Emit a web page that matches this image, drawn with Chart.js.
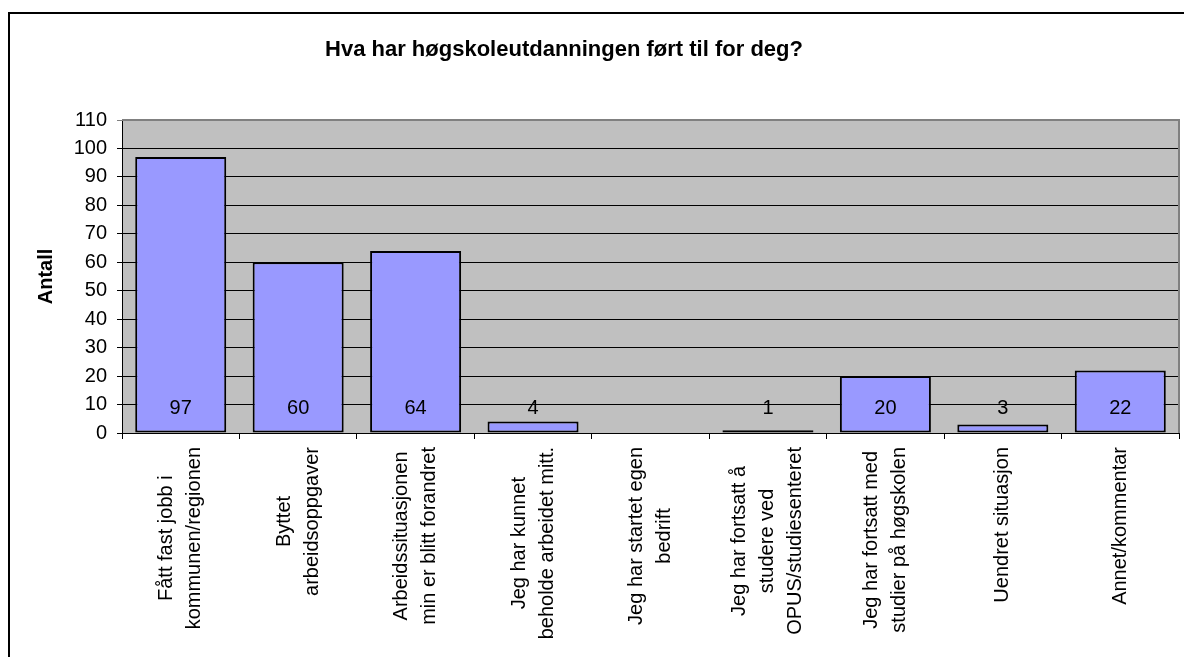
<!DOCTYPE html>
<html>
<head>
<meta charset="utf-8">
<script src="https://cdn.jsdelivr.net/npm/chart.js@4/dist/chart.umd.min.js"></script>
<style>
  html, body { margin: 0; padding: 0; background: #fff; overflow: hidden; }
  #wrap { position: relative; width: 1184px; height: 657px; }
</style>
</head>
<body>
<div id="wrap"><canvas id="chart" width="1184" height="657"></canvas></div>
<script>
// data
const tittel = 'Hva har høgskoleutdanningen ført til for deg?';
const kategorier = [
    ['Fått fast jobb i', 'kommunen/regionen'],
    ['Byttet', 'arbeidsoppgaver'],
    ['Arbeidssituasjonen', 'min er blitt forandret'],
    ['Jeg har kunnet', 'beholde arbeidet mitt.'],
    ['Jeg har startet egen', 'bedrift'],
    ['Jeg har fortsatt å', 'studere ved', 'OPUS/studiesenteret'],
    ['Jeg har fortsatt med', 'studier på høgskolen'],
    ['Uendret situasjon'],
    ['Annet/kommentar']
];
const antall = [97, 60, 64, 4, 0, 1, 20, 3, 22];
const yMin = 0;
const yMax = 110;
const yStep = 10;

const FONT = '"Liberation Sans", Arial, sans-serif';

// ramme, tittel, kantlinjer og kategoritekster
const tegnPlugin = {
    id: 'tegnPlugin',
    beforeDraw(chart) {
        const { ctx, chartArea } = chart;
        ctx.save();
        ctx.fillStyle = '#fff';
        ctx.fillRect(0, 0, chart.width, chart.height);
        ctx.fillStyle = '#c0c0c0';
        ctx.fillRect(chartArea.left, chartArea.top, chartArea.right - chartArea.left, chartArea.bottom - chartArea.top);
        ctx.lineWidth = 2;
        ctx.strokeStyle = '#000';
        ctx.strokeRect(9, 13, 2000, 2000);
        ctx.restore();
    },
    afterDatasetsDraw(chart) {
        const { ctx, chartArea } = chart;
        const meta = chart.getDatasetMeta(0);
        const y0 = chart.scales.y.getPixelForValue(0);
        ctx.save();
        // grå kant øverst og til høyre
        ctx.strokeStyle = '#808080';
        ctx.lineWidth = 2;
        ctx.beginPath();
        ctx.moveTo(chartArea.left, chartArea.top);
        ctx.lineTo(chartArea.right, chartArea.top);
        ctx.lineTo(chartArea.right, chartArea.bottom);
        ctx.stroke();
        // verdier ved foten av søylene
        ctx.fillStyle = '#000';
        ctx.font = '20px ' + FONT;
        ctx.textAlign = 'center';
        ctx.textBaseline = 'middle';
        meta.data.forEach((bar, i) => {
            if (antall[i] === 0) return;
            ctx.fillText(String(antall[i]), bar.x, y0 - 25);
        });
        ctx.restore();
    },
    afterDraw(chart) {
        const { ctx, chartArea } = chart;
        const xs = chart.scales.x;
        ctx.save();
        ctx.fillStyle = '#000';
        ctx.font = 'bold 22px ' + FONT;
        ctx.textAlign = 'center';
        ctx.textBaseline = 'alphabetic';
        ctx.fillText(tittel, 564, 56);

        // kategoritekster, rotert, linjene sentrert i blokken
        ctx.font = '20px ' + FONT;
        ctx.textBaseline = 'middle';
        const linjeH = 28;
        const topp = chartArea.bottom + 14;
        kategorier.forEach((linjer, i) => {
            const cx = xs.getPixelForValue(i);
            const w = Math.max(...linjer.map(l => ctx.measureText(l).width));
            linjer.forEach((l, j) => {
                const lx = cx + (j - (linjer.length - 1) / 2) * linjeH;
                ctx.save();
                ctx.translate(lx, topp + w / 2);
                ctx.rotate(-Math.PI / 2);
                ctx.fillText(l, 0, 0);
                ctx.restore();
            });
        });
        ctx.restore();
    }
};

const ctx = document.getElementById('chart').getContext('2d');
const chart = new Chart(ctx, {
    type: 'bar',
    data: {
        labels: kategorier,
        datasets: [{
            label: 'Antall',
            data: antall,
            backgroundColor: '#9999ff',
            borderColor: '#000',
            borderWidth: 2,
            borderSkipped: false,
            barPercentage: 0.775,
            categoryPercentage: 1
        }]
    },
    options: {
        responsive: false,
        animation: false,
        layout: { padding: { top: 120, right: 5, bottom: 0, left: 0 } },
        plugins: {
            legend: { display: false },
            title: { display: false },
            tooltip: { enabled: false }
        },
        scales: {
            x: {
                ticks: { display: false },
                grid: { drawOnChartArea: false, drawTicks: true, tickLength: 6, color: '#000', offset: true },
                border: { display: true, color: '#000', width: 1 },
                afterFit(scale) { scale.height = 224; }
            },
            y: {
                min: yMin,
                max: yMax,
                ticks: {
                    stepSize: yStep,
                    color: '#000',
                    padding: 10,
                    font: { family: FONT, size: 20 }
                },
                grid: {
                    color: (c) => (c.tick && c.tick.value === yMax) ? '#808080' : '#000',
                    lineWidth: 1,
                    tickLength: 5
                },
                border: { display: true, color: '#000', width: 1 },
                title: {
                    display: true,
                    text: 'Antall',
                    color: '#000',
                    font: { family: FONT, size: 20, weight: 'bold' },
                    padding: { top: 34, bottom: 0 }
                },
                afterFit(scale) { scale.width = 122; }
            }
        }
    },
    plugins: [tegnPlugin]
});
</script>
</body>
</html>
